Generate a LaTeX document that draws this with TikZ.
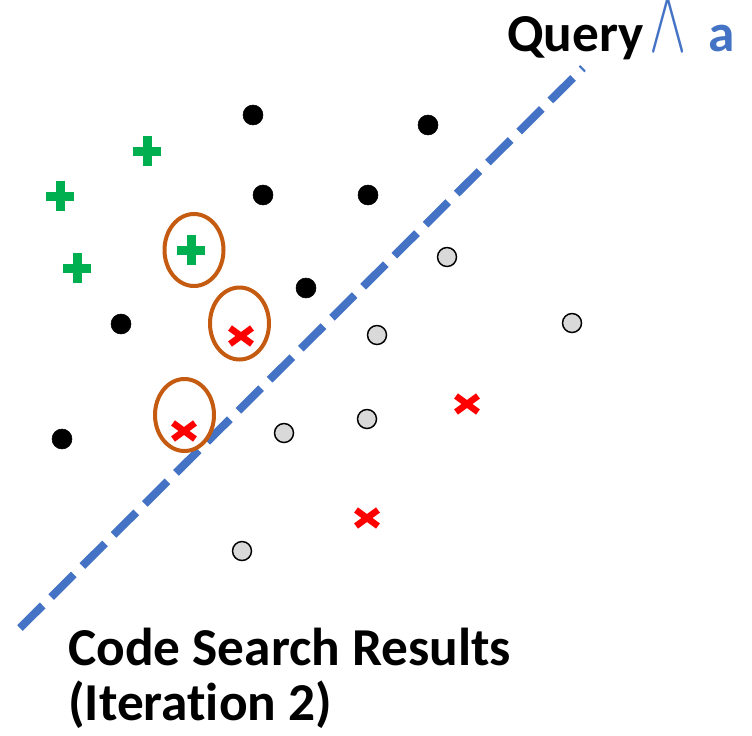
\documentclass[tikz,border=0pt]{standalone}
\usepackage{fontspec}
\usetikzlibrary{shapes.geometric}
\setmainfont[Ligatures=NoCommon]{Carlito}
\newfontfamily\lmmath{latinmodern-math.otf}
\definecolor{qblue}{HTML}{4472C4}
\definecolor{pgreen}{HTML}{00B050}
\definecolor{xred}{HTML}{FF0000}
\definecolor{eorange}{HTML}{C55A11}
\definecolor{lgray}{HTML}{D9D9D9}
\begin{document}
\begin{tikzpicture}[x=0.75pt,y=-0.75pt,
  blackdot/.style={circle,fill=black,draw=black,minimum size=20*0.75pt,inner sep=0pt},
  graydot/.style={circle,fill=lgray,draw=black,line width=1.1pt,minimum size=19*0.75pt,inner sep=0pt},
  ring/.style={ellipse,draw=eorange,line width=3pt,minimum width=59*0.75pt,minimum height=72*0.75pt,inner sep=0pt},
  plusbar/.style={draw=pgreen,line width=9*0.75pt},
  crossbar/.style={draw=xred,line width=6.5*0.75pt},
  bigtext/.style={font=\bfseries\fontsize{40}{48}\selectfont,inner sep=0pt,anchor=base west}]
\useasboundingbox (0,0) rectangle (752,735);
% separator
\coordinate (ls) at (20,628);
\coordinate (le) at (583,68);
\draw[qblue,line width=8*0.75pt,dash pattern=on 24pt off 9pt] (ls) -- (le);
% black dots
\foreach \n/\x/\y in {b1/253/115,b2/428/125,b3/263/195,b4/368/195,b5/306/288,b6/121/324,b7/62/439}
  \node[blackdot] (\n) at (\x,\y) {};
% gray dots
\foreach \n/\x/\y in {g1/447/257,g2/377/335,g3/572/323,g4/284/433,g5/367/419,g6/242/551}
  \node[graydot] (\n) at (\x,\y) {};
% green plus
\foreach \x/\y in {147/151,60/196,77/268,191/250}{
  \draw[plusbar] (\x-14,\y) -- (\x+14,\y);
  \draw[plusbar] (\x,\y-15) -- (\x,\y+15);
}
% red crosses
\foreach \x/\y in {241/336,184/431,467/404,367/518}{
  \draw[crossbar] (\x-11,\y-8) -- (\x+11,\y+8);
  \draw[crossbar] (\x-11,\y+8) -- (\x+11,\y-8);
}
% ellipses
\node[ring] (e1) at (194,250) {};
\node[ring] (e2) at (239.5,323.5) {};
\node[ring] (e3) at (184.5,415) {};
% texts
\node[bigtext] (q) at (507,52) {Query};
\node[inner sep=0pt,anchor=base west,text=qblue,font=\lmmath\fontsize{40}{48}\selectfont] (w) at (648,52) {\scalebox{1.1}[1.7]{∧}};
\node[bigtext,text=qblue] (a) at (708,52) {a};
\node[bigtext] (t1) at (68,665) {Code Search Results};
\node[bigtext] (t2) at (68,720) {(Iteration 2)};
\end{tikzpicture}
\end{document}
